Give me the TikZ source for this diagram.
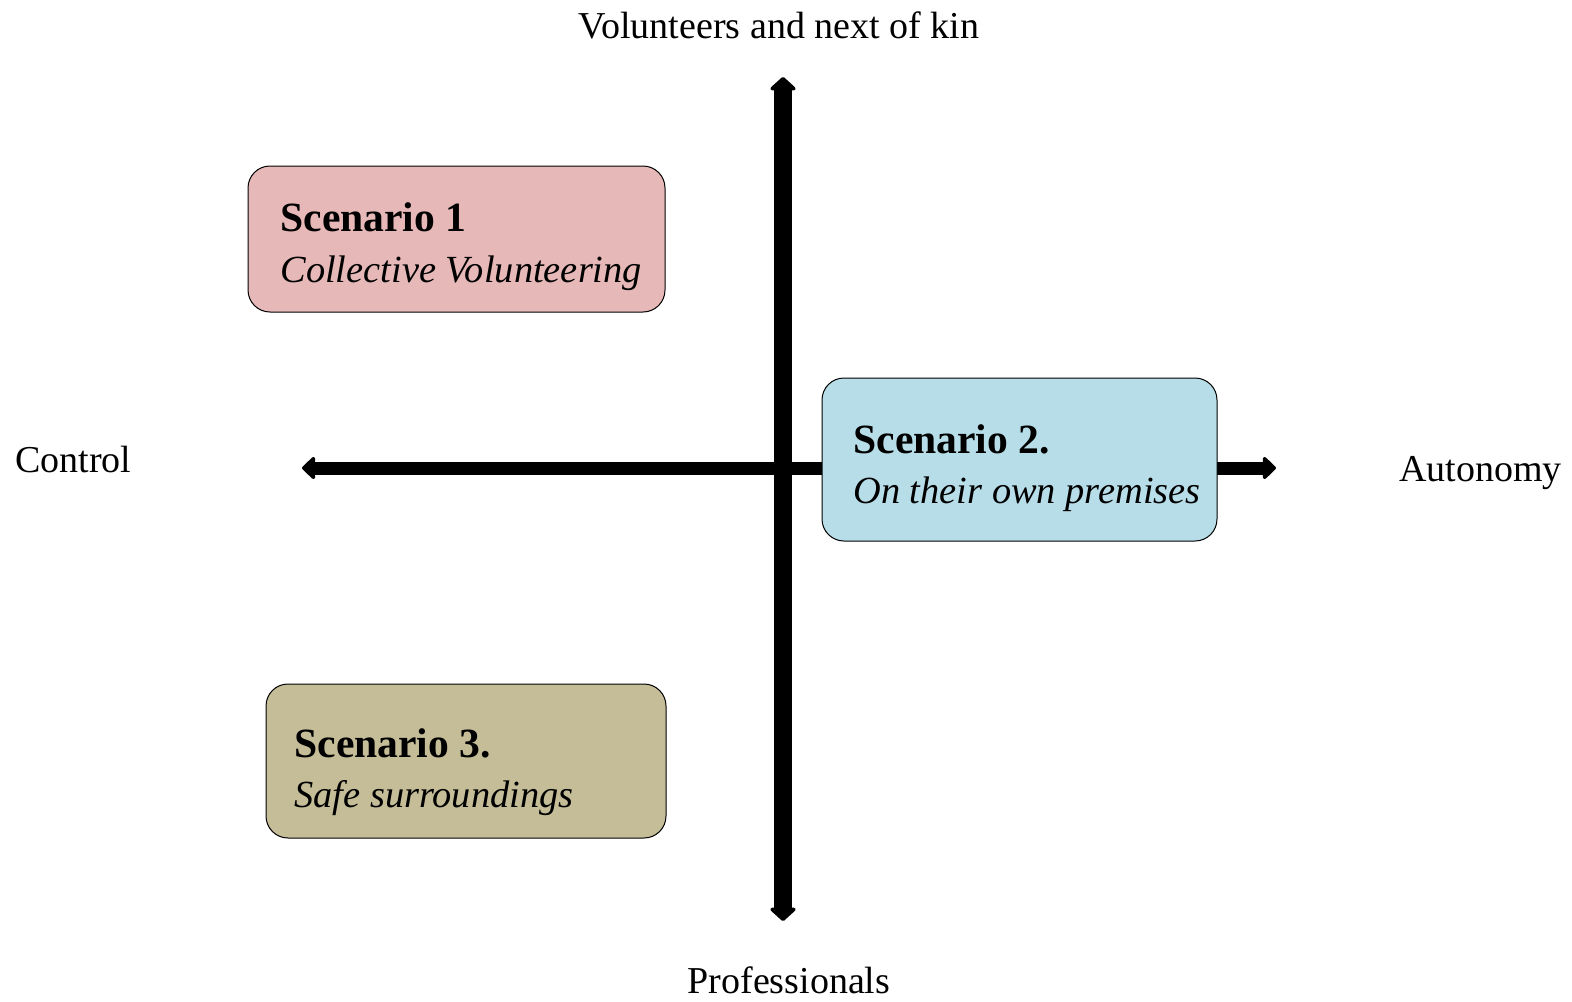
\documentclass[tikz,border=0pt]{standalone}
\usepackage{fontspec}
\setmainfont{Liberation Serif}
\usetikzlibrary{arrows.meta}
\definecolor{pinkbox}{HTML}{E6B8B7}
\definecolor{bluebox}{HTML}{B7DEE8}
\definecolor{tanbox}{HTML}{C4BD97}
\tikzset{
  scbox/.style={draw=black, line width=0.5pt, rounded corners=11pt},
  lbl/.style={font=\fontsize{19}{23}\selectfont, inner sep=0pt},
  ttl/.style={font=\fontsize{20.8}{25}\selectfont\bfseries, inner sep=0pt, anchor=base west},
  sub/.style={font=\fontsize{19.2}{23}\selectfont\itshape, inner sep=0pt, anchor=base west},
  vaxis/.style={line width=9pt, {Triangle[round,line width=2pt,width=15pt,length=7pt]}-{Triangle[round,line width=2pt,width=15pt,length=7pt]}},
  haxis/.style={line width=6.5pt, {Triangle[round,line width=2pt,width=13pt,length=7pt]}-{Triangle[round,line width=2pt,width=13pt,length=7pt]}}
}
\begin{document}
\begin{tikzpicture}[x=0.5pt,y=-0.5pt]
\useasboundingbox (0,0) rectangle (1572,1001);
% axes
\coordinate (vt) at (783,77);
\coordinate (vb) at (783,921);
\coordinate (hl) at (302,468);
\coordinate (hr) at (1276,468);
\draw[vaxis] (vt) -- (vb);
\draw[haxis] (hl) -- (hr);
% boxes
\path[scbox, fill=pinkbox] (248,166) rectangle (665,312) node[coordinate] (b1) {};
\path[scbox, fill=bluebox] (822,378) rectangle (1217,541) node[coordinate] (b2) {};
\path[scbox, fill=tanbox] (266,684) rectangle (666,838) node[coordinate] (b3) {};
\node[ttl] (t1) at (280,231) {Scenario 1};
\node[sub] (s1) at (280,282) {Collective Volunteering};
\node[ttl] (t2) at (853,453) {Scenario 2.};
\node[sub] (s2) at (853,503) {On their own premises};
\node[ttl] (t3) at (294,757) {Scenario 3.};
\node[sub] (s3) at (294,807) {Safe surroundings};
% axis labels
\node[lbl, anchor=base] (top) at (779,38) {Volunteers and next of kin};
\node[lbl, anchor=base] (bot) at (789,993) {Professionals};
\node[lbl, anchor=base west] (ctl) at (15,472) {Control};
\node[lbl, anchor=base east] (aut) at (1562,481) {Autonomy};
\end{tikzpicture}
\end{document}
